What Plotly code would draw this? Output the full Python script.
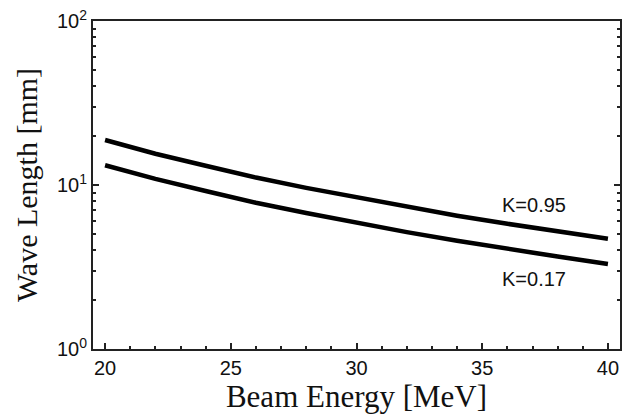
import math
import plotly.graph_objects as go

energy = [20, 22, 24, 26, 28, 30, 32, 34, 36, 38, 40]
wl_k095 = [18.8, 15.5, 13.1, 11.1, 9.6, 8.4, 7.35, 6.5, 5.8, 5.2, 4.7]
wl_k017 = [13.2, 10.9, 9.2, 7.8, 6.75, 5.87, 5.16, 4.57, 4.07, 3.66, 3.3]
labels = ["K=0.95", "K=0.17"]
label_pos = [(37.07, 7.6), (37.07, 2.69)]

fig = go.Figure()
for ys in (wl_k095, wl_k017):
    fig.add_trace(go.Scatter(x=energy, y=ys, mode="lines",
                             line=dict(color="black", width=4.5), showlegend=False))

for t, (xx, yy) in zip(labels, label_pos):
    fig.add_annotation(x=xx, y=math.log10(yy), text=t, showarrow=False,
                       font=dict(family="Liberation Sans, Arial", size=20, color="#111"))

minor_y = [v * 10 ** d for d in (0, 1) for v in range(2, 10)]

fig.update_layout(
    width=628, height=414,
    margin=dict(l=93, r=6, t=21, b=65),
    paper_bgcolor="white", plot_bgcolor="white",
    font=dict(family="Liberation Sans, Arial", size=20, color="#111"),
    xaxis=dict(
        range=[19.52, 40.48], tickvals=[20, 25, 30, 35, 40],
        ticks="inside", ticklen=6, tickwidth=1.5, tickcolor="#222",
        showline=True, linecolor="#222", linewidth=2, mirror=True,
        showgrid=False, zeroline=False,
        minor=dict(dtick=1, tick0=20, ticks="inside", ticklen=3, tickwidth=1.5, tickcolor="#222"),
        title=dict(text="Beam Energy [MeV]", font=dict(family="Liberation Serif, Times New Roman", size=31), standoff=2),
    ),
    yaxis=dict(
        type="log", range=[0, 2], tickvals=[1, 10, 100],
        ticktext=["10<sup>0</sup>", "10<sup>1</sup>", "10<sup>2</sup>"],
        ticks="inside", ticklen=6, tickwidth=1.5, tickcolor="#222",
        showline=True, linecolor="#222", linewidth=2, mirror="ticks",
        showgrid=False, zeroline=False,
        minor=dict(tickvals=minor_y, ticks="inside", ticklen=3, tickwidth=1.5, tickcolor="#222"),
        title=dict(text="Wave Length [mm]", font=dict(family="Liberation Serif, Times New Roman", size=30), standoff=10),
    ),
)

fig.write_html("out.html")
